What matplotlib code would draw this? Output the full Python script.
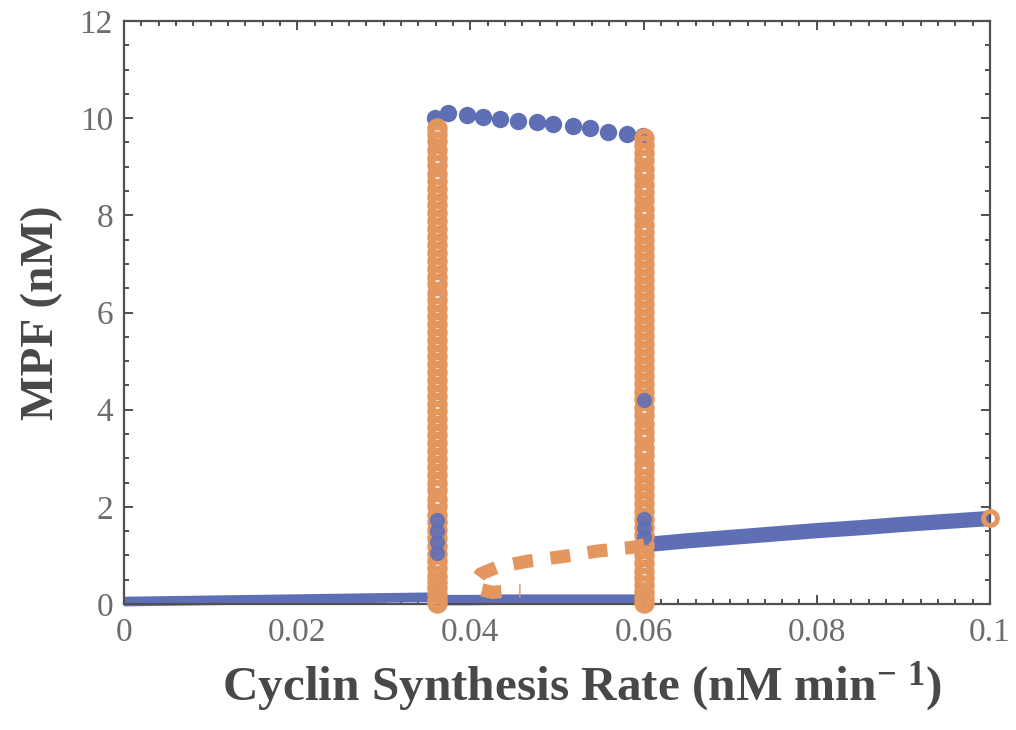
import matplotlib
matplotlib.use("Agg")
import matplotlib.pyplot as plt
from matplotlib.ticker import MultipleLocator, FixedLocator

# ---- data -------------------------------------------------------------
# stable low-MPF steady state (blue band)
low_x = [0.0, 0.004, 0.008, 0.012, 0.016, 0.020, 0.024, 0.028, 0.032, 0.0361]
low_y = [0.05, 0.06, 0.07, 0.08, 0.09, 0.10, 0.11, 0.12, 0.13, 0.14]
low2_x = [0.0361, 0.040, 0.044, 0.048, 0.052, 0.056, 0.0600]
low2_y = [0.08, 0.08, 0.09, 0.09, 0.09, 0.09, 0.09]

# stable high-MPF steady state beyond the upper fold
high_x = [0.0601, 0.065, 0.070, 0.075, 0.080, 0.085, 0.090, 0.095, 0.100]
high_y = [1.22, 1.30, 1.37, 1.44, 1.51, 1.57, 1.64, 1.70, 1.76]

# oscillation maxima (blue dots)
osc_x = [0.0359, 0.0374, 0.0396, 0.0415, 0.0434, 0.0455, 0.0477,
         0.0495, 0.0518, 0.0538, 0.0559, 0.0581, 0.0599]
osc_y = [10.00, 10.11, 10.07, 10.02, 9.98, 9.94, 9.92,
         9.88, 9.84, 9.80, 9.72, 9.67, 9.63]

# trajectory samples stacked at the two bifurcation points (orange circles)
col_a_x = 0.0361
col_a_y = [0.02, 0.09, 0.21, 0.33, 0.46, 0.58, 0.74, 0.88, 1.03, 1.19,
           1.36, 1.52, 1.69, 1.84, 2.01, 2.17, 2.34, 2.49, 2.66, 2.83,
           2.98, 3.15, 3.31, 3.47, 3.64, 3.80, 3.97, 4.12, 4.29, 4.45,
           4.62, 4.78, 4.94, 5.11, 5.27, 5.43, 5.60, 5.76, 5.92, 6.09,
           6.25, 6.41, 6.58, 6.74, 6.90, 7.07, 7.23, 7.39, 7.56, 7.72,
           7.88, 8.05, 8.21, 8.37, 8.54, 8.70, 8.86, 9.03, 9.19, 9.35,
           9.52, 9.68, 9.80]
col_b_x = 0.0600
col_b_y = [0.03, 0.12, 0.25, 0.39, 0.53, 0.68, 0.84, 1.00, 1.22, 1.41,
           1.58, 1.74, 1.91, 2.07, 2.24, 2.40, 2.57, 2.73, 2.89, 3.06,
           3.22, 3.39, 3.55, 3.71, 3.88, 4.04, 4.21, 4.37, 4.53, 4.70,
           4.86, 5.03, 5.19, 5.35, 5.52, 5.68, 5.85, 6.01, 6.17, 6.34,
           6.50, 6.67, 6.83, 6.99, 7.16, 7.32, 7.49, 7.65, 7.81, 7.98,
           8.14, 8.31, 8.47, 8.63, 8.80, 8.96, 9.13, 9.29, 9.45, 9.60]
end_x = [0.1000]
end_y = [1.76]

# blue samples visible inside the orange columns
blue_col_x = [0.0361, 0.0361, 0.0361, 0.0361, 0.0600, 0.0600, 0.0600, 0.0600]
blue_col_y = [1.05, 1.28, 1.50, 1.72, 1.38, 1.56, 1.74, 4.20]

# unstable steady state (orange dashed)
unst_x = [0.0601, 0.0589, 0.0547, 0.0508, 0.0466, 0.0431, 0.0412,
          0.0405, 0.0411, 0.0425, 0.0445, 0.0458]
unst_y = [1.22, 1.17, 1.09, 0.98, 0.88, 0.76, 0.62,
          0.45, 0.30, 0.24, 0.27, 0.27]

x_ticks = [0, 0.02, 0.04, 0.06, 0.08, 0.1]
x_ticklabels = ["0", "0.02", "0.04", "0.06", "0.08", "0.1"]
y_ticks = [0, 2, 4, 6, 8, 10, 12]

# ---- style ------------------------------------------------------------
BLUE = "#5f6fb6"
ORANGE = "#e4965f"
FRAME = "#505050"
TICKTXT = "#6c6c6c"
LABELTXT = "#484848"

plt.rcParams["font.family"] = ["Liberation Serif", "DejaVu Serif"]
plt.rcParams["mathtext.fontset"] = "custom"
plt.rcParams["mathtext.rm"] = "Liberation Serif:bold"
plt.rcParams["mathtext.bf"] = "Liberation Serif:bold"
plt.rcParams["mathtext.default"] = "bf"

fig = plt.figure(figsize=(10.16, 7.30), dpi=100)
ax = fig.add_axes([124 / 1016, 126 / 730, 866 / 1016, 583 / 730])

# blue branches
ax.plot(low_x, low_y, color=BLUE, lw=7, solid_capstyle="butt",
        clip_on=False, zorder=2)
ax.plot(low2_x, low2_y, color=BLUE, lw=7.5, solid_capstyle="butt",
        clip_on=False, zorder=2)
ax.plot(high_x, high_y, color=BLUE, lw=11, solid_capstyle="butt",
        clip_on=False, zorder=2)
ax.plot(osc_x, osc_y, "o", color=BLUE, ms=12.5, mec="none",
        clip_on=False, zorder=3)

# orange stacked open circles
for cx, cy in ((col_a_x, col_a_y), (col_b_x, col_b_y)):
    ax.plot([cx] * len(cy), cy, "o", mfc="none", mec=ORANGE,
            ms=10.5, mew=4.2, clip_on=False, zorder=4)
ax.plot(end_x, end_y, "o", mfc="none", mec=ORANGE, ms=10, mew=3.5,
        clip_on=False, zorder=4)

ax.plot(blue_col_x, blue_col_y, "o", color=BLUE, ms=11, mec="none",
        alpha=0.9, clip_on=False, zorder=5)

# unstable branch
ax.plot(unst_x, unst_y, color=ORANGE, lw=9.5, dashes=(1.5, 1.35),
        dash_capstyle="butt", clip_on=False, zorder=6)

# ---- axes -------------------------------------------------------------
ax.set_xlim(0, 0.1)
ax.set_ylim(0, 12)
ax.xaxis.set_major_locator(FixedLocator(x_ticks))
ax.set_xticklabels(x_ticklabels)
ax.xaxis.set_minor_locator(MultipleLocator(0.002))
ax.yaxis.set_major_locator(FixedLocator(y_ticks))
ax.set_yticklabels([str(v) for v in y_ticks])
ax.yaxis.set_minor_locator(MultipleLocator(0.5))

for s in ax.spines.values():
    s.set_color(FRAME)
    s.set_linewidth(1.6)

ax.tick_params(which="both", direction="in", top=True, right=True,
               color=FRAME, width=1.4)
ax.tick_params(which="major", length=6.5, labelsize=24, labelcolor=TICKTXT)
ax.tick_params(which="minor", length=3.5)
ax.tick_params(axis="x", which="major", pad=10)
ax.tick_params(axis="y", which="major", pad=8)

ax.set_xlabel(r"Cyclin Synthesis Rate (nM min$^{\mathbf{-\ 1}}$)",
              fontsize=35.5, fontweight="bold", color=LABELTXT)
ax.xaxis.set_label_coords(0.529, -0.095, transform=ax.transAxes)
ax.xaxis.label.set_verticalalignment("top")
ax.set_ylabel("MPF (nM)", fontsize=34, fontweight="bold", color=LABELTXT,
              labelpad=12)

fig.savefig("out.png", dpi=100, facecolor="white")
